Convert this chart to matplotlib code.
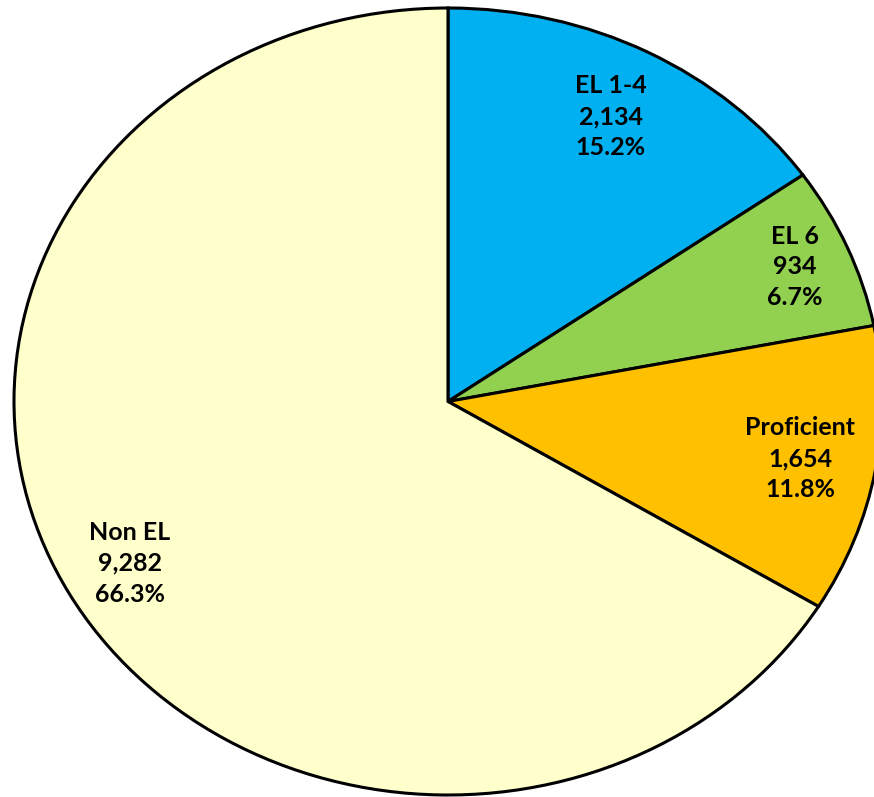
import numpy as np
import matplotlib.pyplot as plt

categories = ['EL 1-4', 'EL 6', 'Proficient', 'Non EL']
counts = [2134, 934, 1654, 9282]
colors = ['#00B0F0', '#92D050', '#FFC000', '#FFFFCC']
label_dist = [0.815, 0.87, 0.825, 0.84]

W, H = 874, 797
fig = plt.figure(figsize=(W / 100, H / 100), dpi=100)
# pie is slightly stretched horizontally and runs off the right edge
ax = fig.add_axes([14 / W, 2 / H, 868 / W, 787 / H])

total = sum(counts)
wedges, _ = ax.pie(counts, colors=colors, startangle=90, counterclock=False,
                   wedgeprops=dict(edgecolor='black', linewidth=2.2))
ax.set_aspect('auto')
ax.set_xlim(-1, 1)
ax.set_ylim(-1, 1)
ax.axis('off')

for w, name, n, d in zip(wedges, categories, counts, label_dist):
    ang = np.deg2rad((w.theta1 + w.theta2) / 2)
    txt = f'{name}\n{n:,}\n{n / total * 100:.1f}%'
    ax.text(d * np.cos(ang), d * np.sin(ang), txt, ha='center', va='center',
            fontsize=18, fontweight='bold', family='Lato', linespacing=1.42)

fig.savefig('out.png', dpi=100)
